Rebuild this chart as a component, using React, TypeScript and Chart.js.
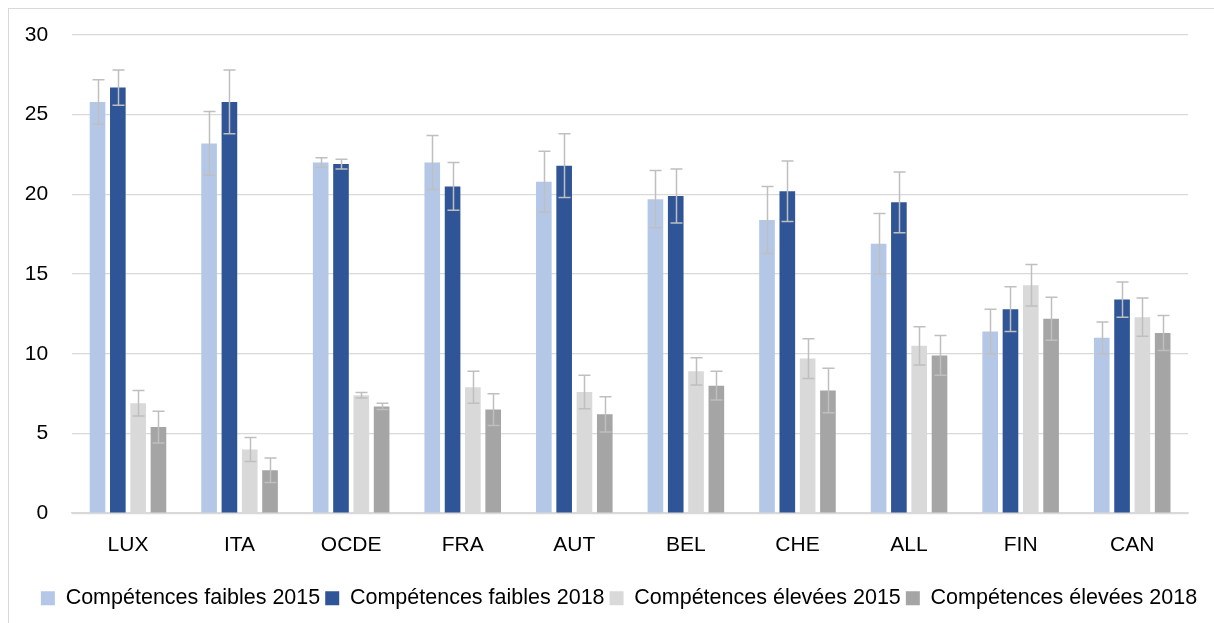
import React, { useEffect, useRef } from "react";
import { Chart, registerables } from "chart.js";

Chart.register(...registerables);

const categories = ["LUX", "ITA", "OCDE", "FRA", "AUT", "BEL", "CHE", "ALL", "FIN", "CAN"];
const seriesNames = [
  "Compétences faibles 2015",
  "Compétences faibles 2018",
  "Compétences élevées 2015",
  "Compétences élevées 2018",
];
const faibles2015 = [25.8, 23.2, 22.0, 22.0, 20.8, 19.7, 18.4, 16.9, 11.4, 11.0];
const faibles2018 = [26.7, 25.8, 21.9, 20.5, 21.8, 19.9, 20.2, 19.5, 12.8, 13.4];
const elevees2015 = [6.9, 4.0, 7.4, 7.9, 7.6, 8.9, 9.7, 10.5, 14.3, 12.3];
const elevees2018 = [5.4, 2.7, 6.7, 6.5, 6.2, 8.0, 7.7, 9.9, 12.2, 11.3];
const errFaibles2015 = [1.4, 2.0, 0.3, 1.7, 1.9, 1.8, 2.1, 1.9, 1.4, 1.0];
const errFaibles2018 = [1.1, 2.0, 0.3, 1.5, 2.0, 1.7, 1.9, 1.9, 1.4, 1.1];
const errElevees2015 = [0.8, 0.75, 0.17, 1.0, 1.05, 0.85, 1.25, 1.2, 1.3, 1.2];
const errElevees2018 = [1.0, 0.77, 0.19, 1.0, 1.1, 0.9, 1.4, 1.25, 1.35, 1.1];
const yTicks = [0, 5, 10, 15, 20, 25, 30];

const colors = ["#B4C7E7", "#2F5597", "#D9D9D9", "#A5A5A5"];
const FONT = "'Liberation Sans', Arial, sans-serif";

const errorBarPlugin = {
  id: "errorBars",
  afterDatasetsDraw(chart: any) {
    const ctx = chart.ctx;
    const yScale = chart.scales.y;
    ctx.save();
    ctx.strokeStyle = "#BFBFBF";
    ctx.lineWidth = 1.5;
    chart.data.datasets.forEach((ds: any, di: number) => {
      const meta = chart.getDatasetMeta(di);
      if (meta.hidden) return;
      meta.data.forEach((bar: any, i: number) => {
        const v = ds.data[i];
        const e = ds.errors[i];
        const x = Math.round(bar.x) + 0.5;
        const yTop = yScale.getPixelForValue(v + e);
        const yBot = yScale.getPixelForValue(v - e);
        const cap = 6;
        ctx.beginPath();
        ctx.moveTo(x, yTop);
        ctx.lineTo(x, yBot);
        ctx.moveTo(x - cap, yTop);
        ctx.lineTo(x + cap, yTop);
        ctx.moveTo(x - cap, yBot);
        ctx.lineTo(x + cap, yBot);
        ctx.stroke();
      });
    });
    ctx.restore();
  },
};

export default function App() {
  const ref = useRef<HTMLCanvasElement | null>(null);
  useEffect(() => {
    if (!ref.current) return;
    const values = [faibles2015, faibles2018, elevees2015, elevees2018];
    const errors = [errFaibles2015, errFaibles2018, errElevees2015, errElevees2018];
    const chart = new Chart(ref.current, {
      type: "bar",
      data: {
        labels: categories,
        datasets: seriesNames.map((name, k) => ({
          label: name,
          data: values[k],
          errors: errors[k],
          backgroundColor: colors[k],
          borderWidth: 0,
          categoryPercentage: 0.728,
          barPercentage: 0.77,
        })) as any,
      },
      options: {
        animation: false,
        responsive: false,
        maintainAspectRatio: false,
        layout: { padding: { top: 26, right: 0, bottom: 4, left: 15 } },
        plugins: {
          tooltip: { enabled: false },
          legend: {
            position: "bottom",
            labels: {
              boxWidth: 14,
              boxHeight: 14,
              padding: 5,
              color: "#000",
              font: { family: FONT, size: 21.5 },
            },
          },
        },
        scales: {
          x: {
            grid: { display: false },
            border: { display: true, color: "#D9D9D9", width: 1.5 },
            ticks: { color: "#000", font: { family: FONT, size: 21 }, padding: 11 },
            afterFit: (s: any) => {
              s.height = 69.3;
            },
          },
          y: {
            min: 0,
            max: 30,
            afterBuildTicks: (s: any) => {
              s.ticks = yTicks.map((v) => ({ value: v }));
            },
            grid: { color: "#D9D9D9", lineWidth: 1.3, drawTicks: false },
            border: { display: false },
            ticks: { color: "#000", font: { family: FONT, size: 21 }, padding: 24 },
            afterFit: (s: any) => {
              s.width = 48.2;
              s.paddingTop = 0;
              s.paddingBottom = 0;
            },
          },
          yRight: {
            type: "linear",
            position: "right",
            display: true,
            grid: { display: false, drawTicks: false },
            border: { display: false },
            ticks: { display: false },
            afterFit: (s: any) => {
              s.width = 26;
              s.paddingTop = 0;
              s.paddingBottom = 0;
            },
          },
        },
      },
      plugins: [errorBarPlugin],
    });
    return () => chart.destroy();
  }, []);

  return (
    <div style={{ position: "fixed", left: 8, top: 8, right: 0, bottom: 0, overflow: "hidden" }}>
      <div
        style={{
          position: "absolute",
          left: 0,
          top: 0,
          width: 1300,
          height: 700,
          border: "1px solid #D9D9D9",
          boxSizing: "border-box",
          background: "#fff",
        }}
      >
        <canvas ref={ref} width={1205} height={614} style={{ display: "block", width: 1205, height: 614 }} />
      </div>
    </div>
  );
}
